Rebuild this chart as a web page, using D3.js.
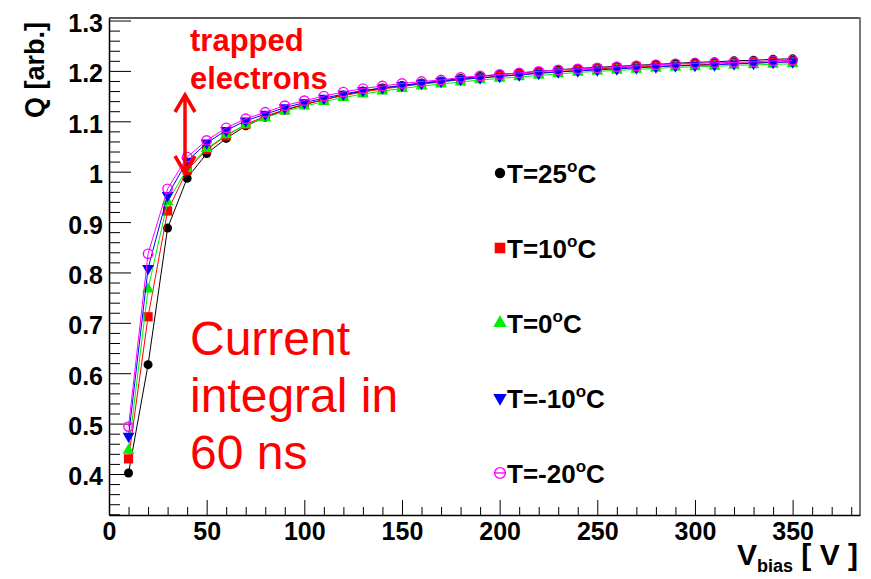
<!DOCTYPE html>
<html>
<head>
<meta charset="utf-8">
<script src="https://cdn.jsdelivr.net/npm/d3@7"></script>
<style>
  html, body { margin: 0; padding: 0; background: #fff; }
  svg { display: block; font-family: "Liberation Sans", Arial, Helvetica, sans-serif; }
</style>
</head>
<body>
<svg id="chart" width="871" height="579"></svg>
<script>
// ---- data ----
const voltages = [10,20,30,40,50,60,70,80,90,100,110,120,130,140,150,160,170,180,190,200,
                  210,220,230,240,250,260,270,280,290,300,310,320,330,340,350];
const q25  = [0.402,0.617,0.888,0.987,1.036,1.066,1.091,1.108,1.122,1.133,1.143,1.152,1.160,1.166,1.171,1.176,1.180,1.185,1.189,1.193,
              1.196,1.199,1.202,1.205,1.207,1.209,1.211,1.213,1.215,1.217,1.218,1.220,1.221,1.223,1.224];
const q10  = [0.430,0.712,0.922,1.003,1.044,1.071,1.094,1.110,1.123,1.134,1.143,1.151,1.158,1.164,1.169,1.174,1.178,1.183,1.186,1.190,
              1.193,1.196,1.199,1.201,1.204,1.206,1.208,1.209,1.211,1.212,1.213,1.215,1.216,1.217,1.218];
const q0   = [0.447,0.767,0.940,1.006,1.046,1.073,1.093,1.107,1.120,1.130,1.139,1.147,1.154,1.160,1.165,1.170,1.174,1.178,1.182,1.185,
              1.188,1.191,1.194,1.197,1.199,1.201,1.203,1.205,1.207,1.208,1.209,1.211,1.212,1.213,1.214];
const qm10 = [0.475,0.808,0.953,1.021,1.057,1.082,1.101,1.114,1.127,1.137,1.146,1.154,1.161,1.166,1.171,1.175,1.179,1.183,1.186,1.189,
              1.192,1.195,1.198,1.200,1.202,1.204,1.206,1.208,1.210,1.211,1.212,1.214,1.215,1.217,1.218];
const qm20 = [0.494,0.837,0.966,1.029,1.062,1.087,1.105,1.118,1.131,1.141,1.150,1.158,1.165,1.170,1.175,1.179,1.182,1.187,1.190,1.193,
              1.196,1.199,1.202,1.204,1.206,1.208,1.210,1.212,1.214,1.215,1.216,1.217,1.218,1.220,1.221];
const tempLabels = ["T=25", "T=10", "T=0", "T=-10", "T=-20"];
const xMajorTicks = [0,50,100,150,200,250,300,350];
const yMajorTicks = [0.4,0.5,0.6,0.7,0.8,0.9,1.0,1.1,1.2,1.3];
const yTickLabels = ["0.4","0.5","0.6","0.7","0.8","0.9","1","1.1","1.2","1.3"];

// ---- styles ----
const seriesDefs = [
  { values: q25,  color: "#000000", marker: "dot" },
  { values: q10,  color: "#ff0000", marker: "square" },
  { values: q0,   color: "#00ee00", marker: "tri" },
  { values: qm10, color: "#0000ff", marker: "tridown" },
  { values: qm20, color: "#ff00ff", marker: "ocircle" }
];

const svg = d3.select("#chart");
const L = 109, R = 860, T = 18, B = 515;
const x = d3.scaleLinear().domain([0, 384.5]).range([L, R]);
const y = d3.scaleLinear().domain([0.3186, 1.305]).range([B, T]);

// frame (top and right)
svg.append("line").attr("x1", L).attr("x2", R).attr("y1", T).attr("y2", T)
  .attr("stroke", "#222").attr("stroke-width", 1.5);
svg.append("line").attr("x1", R).attr("x2", R).attr("y1", T - 0.75).attr("y2", B)
  .attr("stroke", "#777").attr("stroke-width", 2);

// minor ticks
const xMinor = d3.range(10, 385, 10).filter(v => v % 50 !== 0);
const yMinor = d3.range(0.32, 1.301, 0.02).filter(v => Math.abs(Math.round(v * 10) - v * 10) > 0.01);

svg.append("g").attr("transform", `translate(0,${B})`)
  .call(d3.axisBottom(x).tickValues(xMinor).tickSize(-8).tickSizeOuter(0).tickFormat(""))
  .call(g => g.select(".domain").remove())
  .call(g => g.selectAll("line").attr("stroke", "#000").attr("stroke-width", 1));
svg.append("g").attr("transform", `translate(${L},0)`)
  .call(d3.axisLeft(y).tickValues(yMinor).tickSize(-11).tickSizeOuter(0).tickFormat(""))
  .call(g => g.select(".domain").remove())
  .call(g => g.selectAll("line").attr("stroke", "#000").attr("stroke-width", 1));

// major x axis
svg.append("g").attr("transform", `translate(0,${B})`)
  .call(d3.axisBottom(x).tickValues(xMajorTicks).tickSize(-15).tickSizeOuter(0).tickFormat(d3.format("d")))
  .call(g => g.select(".domain").attr("stroke", "#000").attr("stroke-width", 1.5))
  .call(g => g.selectAll("line").attr("stroke", "#000").attr("stroke-width", 1))
  .call(g => g.selectAll("text").attr("y", 25).attr("dy", 0)
      .attr("font-size", 25).attr("font-weight", "bold").attr("fill", "#000")
      .attr("font-family", "Liberation Sans, Arial, sans-serif"));

// major y axis
svg.append("g").attr("transform", `translate(${L},0)`)
  .call(d3.axisLeft(y).tickValues(yMajorTicks).tickSize(-22).tickSizeOuter(0)
      .tickFormat((d, i) => yTickLabels[i]))
  .call(g => g.select(".domain").attr("stroke", "#000").attr("stroke-width", 1.5))
  .call(g => g.selectAll("line").attr("stroke", "#000").attr("stroke-width", 1))
  .call(g => g.selectAll("text").attr("x", -6).attr("dy", 11)
      .attr("font-size", 25).attr("font-weight", "bold").attr("fill", "#000")
      .attr("font-family", "Liberation Sans, Arial, sans-serif"));

// axis titles
svg.append("text")
  .attr("transform", "translate(44,70) rotate(-90)")
  .attr("text-anchor", "middle")
  .attr("font-size", 27).attr("font-weight", "bold")
  .text("Q [arb.]");

const xt = svg.append("text").attr("x", 858).attr("y", 565)
  .attr("text-anchor", "end").attr("font-weight", "bold").attr("font-size", 30);
xt.append("tspan").text("V");
xt.append("tspan").attr("font-size", 18).attr("dy", 7).text("bias");
xt.append("tspan").attr("dy", -7).text(" [ V ]");

// markers
function drawMarker(g, type, color, cx, cy, s) {
  if (type === "dot") {
    g.append("circle").attr("cx", cx).attr("cy", cy).attr("r", 4.5 * s).attr("fill", color);
  } else if (type === "square") {
    g.append("path").attr("transform", `translate(${cx},${cy})`)
      .attr("d", d3.symbol(d3.symbolSquare, 85 * s * s)()).attr("fill", color);
  } else if (type === "tri") {
    g.append("path").attr("transform", `translate(${cx},${cy})`)
      .attr("d", d3.symbol(d3.symbolTriangle, 60 * s * s)()).attr("fill", color);
  } else if (type === "tridown") {
    g.append("path").attr("transform", `translate(${cx},${cy}) rotate(180)`)
      .attr("d", d3.symbol(d3.symbolTriangle, 60 * s * s)()).attr("fill", color);
  } else if (type === "ocircle") {
    g.append("circle").attr("cx", cx).attr("cy", cy).attr("r", 4.7 * s)
      .attr("fill", "none").attr("stroke", color).attr("stroke-width", 1.4);
  }
}

// series
const line = d3.line().x(d => x(d[0])).y(d => y(d[1]));
seriesDefs.forEach(sd => {
  const pts = voltages.map((v, i) => [v, sd.values[i]]);
  const g = svg.append("g");
  g.append("path").datum(pts).attr("d", line)
    .attr("fill", "none").attr("stroke", sd.color).attr("stroke-width", 1);
  pts.forEach(p => drawMarker(g, sd.marker, sd.color, x(p[0]), y(p[1]), 1));
});

// legend
const legY = [173, 248, 323, 398, 473];
seriesDefs.forEach((sd, i) => {
  const g = svg.append("g");
  drawMarker(g, sd.marker, sd.color, 500, legY[i], 1.15);
  if (sd.marker === "ocircle") {
    g.append("line").attr("x1", 494).attr("x2", 506).attr("y1", legY[i]).attr("y2", legY[i])
      .attr("stroke", sd.color).attr("stroke-width", 1.4);
  }
  const t = g.append("text").attr("x", 507).attr("y", legY[i] + 10)
    .attr("font-size", 26).attr("font-weight", "bold").attr("fill", "#000");
  t.append("tspan").text(tempLabels[i]);
  t.append("tspan").attr("font-size", 17).attr("dy", -11).text("o");
  t.append("tspan").attr("dy", 11).text("C");
});

// annotations
svg.append("text").attr("x", 190).attr("y", 51).attr("fill", "#ff0000")
  .attr("font-size", 31).attr("font-weight", "bold").text("trapped");
svg.append("text").attr("x", 190).attr("y", 89).attr("fill", "#ff0000")
  .attr("font-size", 31).attr("font-weight", "bold").text("electrons");

const ax = 185, ay1 = 95, ay2 = 173;
const arr = svg.append("g").attr("stroke", "#ff0000").attr("stroke-width", 3.5).attr("fill", "none")
  .attr("stroke-linecap", "butt");
arr.append("line").attr("x1", ax).attr("x2", ax).attr("y1", ay1 + 1).attr("y2", ay2 - 1);
arr.append("polyline").attr("points", `${ax - 10},${ay1 + 17} ${ax},${ay1} ${ax + 10},${ay1 + 17}`);
arr.append("polyline").attr("points", `${ax - 10},${ay2 - 17} ${ax},${ay2} ${ax + 10},${ay2 - 17}`);

const cur = ["Current", "integral in", "60 ns"];
const curY = [355, 412, 469];
cur.forEach((s, i) => {
  svg.append("text").attr("x", 190).attr("y", curY[i]).attr("fill", "#ff0000")
    .attr("font-size", 48).text(s);
});
</script>
</body>
</html>
